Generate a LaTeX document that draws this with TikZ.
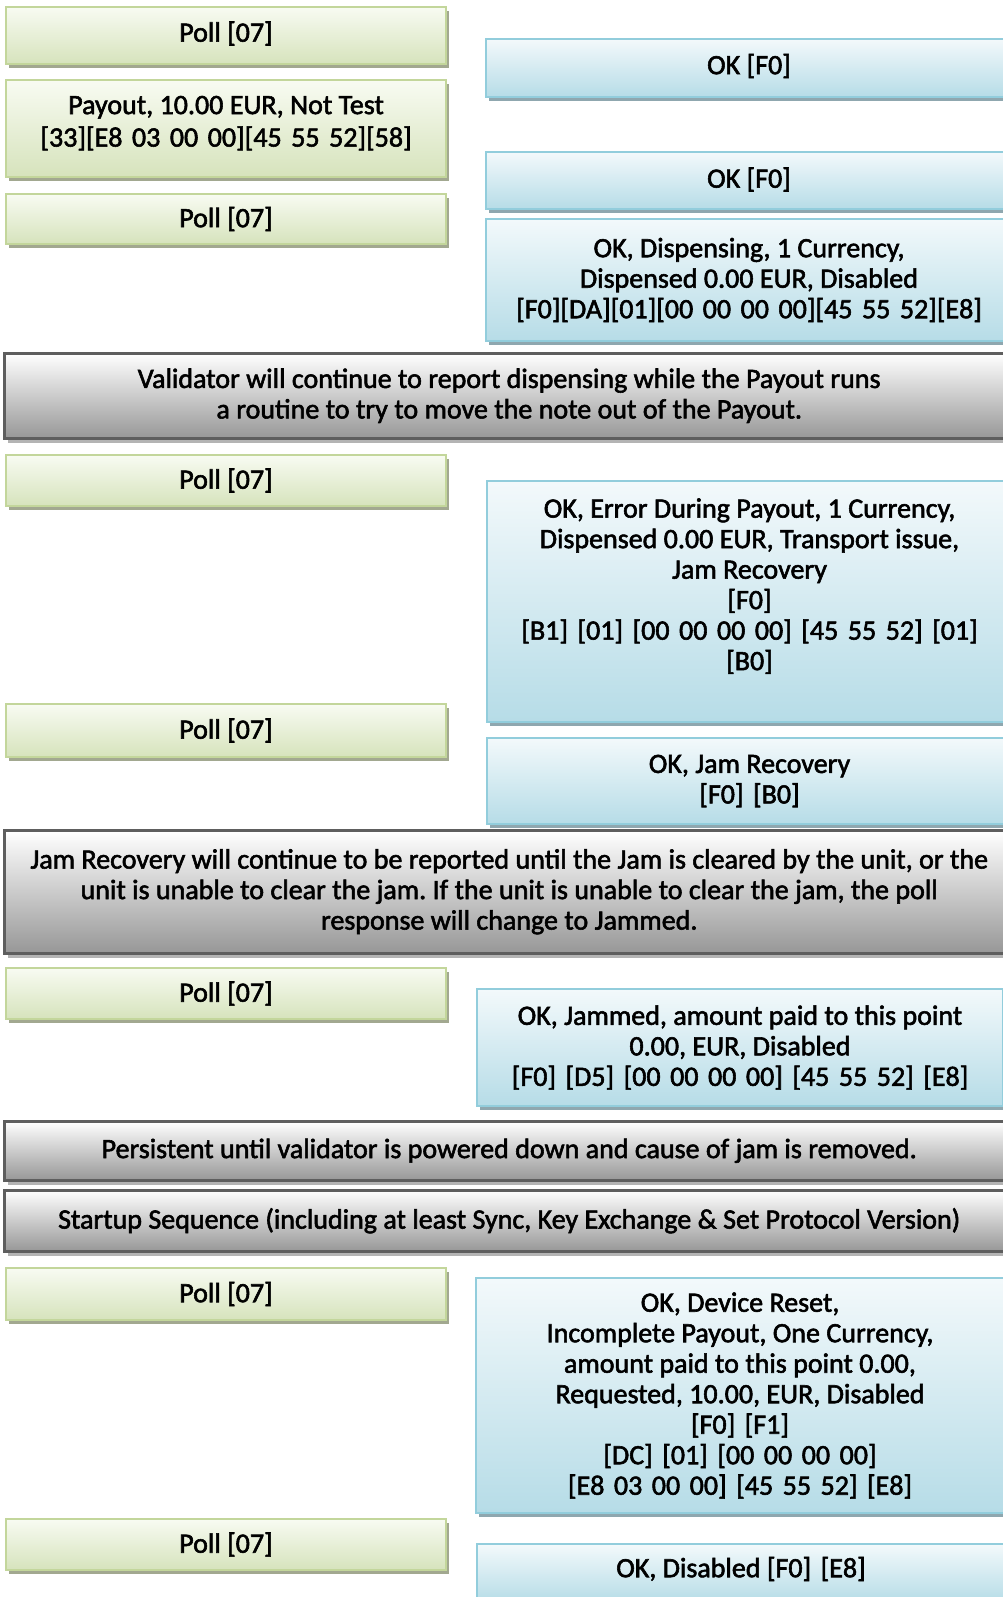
\documentclass[tikz,border=0pt]{standalone}
\usepackage{fontspec}
\setmainfont{Carlito}[FakeBold=2]
\usetikzlibrary{shadows}

\definecolor{hosttop}{HTML}{F8FBF2}
\definecolor{hostbot}{HTML}{D6E3BC}
\definecolor{hostline}{HTML}{C3D69B}
\definecolor{hostshade}{HTML}{A2A890}
\definecolor{slavetop}{HTML}{F3F9FB}
\definecolor{slavebot}{HTML}{B6DCE7}
\definecolor{slaveline}{HTML}{92CDDC}
\definecolor{slaveshade}{HTML}{8FA7AF}
\definecolor{notebot}{HTML}{979797}
\definecolor{noteline}{HTML}{5E5E5E}
\definecolor{noteshade}{HTML}{B4B4B4}

\newcommand{\boxfont}{\fontsize{28}{30.5}\selectfont\frenchspacing}
\newcommand{\upby}[2]{\raisebox{#1}[\height][\depth]{#2}}
% byte strings get wider gaps than words
\newcommand{\hexline}[1]{{\spaceskip=9.5pt\relax #1}}

\begin{document}
\begin{tikzpicture}[x=1pt,y=-1pt]
 \tikzstyle{msgbox} = [anchor=north west,inner sep=0pt,align=flush center,font=\boxfont,
   execute at begin node={\spaceskip=6.4pt plus 1pt minus 1pt\relax}]
 \tikzstyle{hostbox} = [msgbox,draw=hostline,line width=2pt,top color=hosttop,bottom color=hostbot,
   drop shadow={shadow xshift=3pt,shadow yshift=-4pt,fill=hostshade,opacity=1},
   minimum width=440pt,text width=430pt]
 \tikzstyle{slavebox} = [msgbox,draw=slaveline,line width=2pt,top color=slavetop,bottom color=slavebot,
   drop shadow={shadow xshift=3pt,shadow yshift=-4pt,fill=slaveshade,opacity=1}]
 \tikzstyle{notebox} = [msgbox,draw=noteline,line width=2.5pt,top color=white,bottom color=notebot,
   drop shadow={shadow xshift=4pt,shadow yshift=-5pt,fill=noteshade,opacity=1},
   minimum width=1010pt,text width=1000pt]

  \useasboundingbox[fill=white] (0,0) rectangle (1002,1597);

  % Host commands
  \node[hostbox,minimum height=57pt] (poll1)  at (5,6)    {\upby{2pt}{Poll [07]}};
  \node[hostbox,minimum height=97pt] (payout) at (5,79)
    {Payout, 10.00 EUR, Not Test\\[2pt]\hexline{[33][E8 03 00 00][45 55 52][58]}\\[-16pt]\mbox{}};
  \node[hostbox,minimum height=50pt] (poll2)  at (5,193)  {Poll [07]};
  \node[hostbox,minimum height=51pt] (poll3)  at (5,454)  {Poll [07]};
  \node[hostbox,minimum height=53pt] (poll4)  at (5,703)  {Poll [07]};
  \node[hostbox,minimum height=51pt] (poll5)  at (5,967)  {Poll [07]};
  \node[hostbox,minimum height=52pt] (poll6)  at (5,1267) {Poll [07]};
  \node[hostbox,minimum height=51pt] (poll7)  at (5,1518) {Poll [07]};

  % Validator replies
  \node[slavebox,minimum width=526pt,text width=516pt,minimum height=58pt]  (ok1)  at (485,38)  {\upby{2pt}{OK [F0]}};
  \node[slavebox,minimum width=526pt,text width=516pt,minimum height=57pt]  (ok2)  at (485,151) {\upby{1pt}{OK [F0]}};
  \node[slavebox,minimum width=526pt,text width=516pt,minimum height=122pt] (disp) at (485,218)
    {OK, Dispensing, 1 Currency,\\Dispensed 0.00 EUR, Disabled\\\hexline{[F0][DA][01][00 00 00 00][45 55 52][E8]}};
  \node[slavebox,minimum width=525pt,text width=515pt,minimum height=241pt] (err) at (486,480)
    {OK, Error During Payout, 1 Currency,\\Dispensed 0.00 EUR, Transport issue,\\Jam Recovery\\\hexline{[F0]}\\
     \hexline{[B1] [01] [00 00 00 00] [45 55 52] [01]}\\\hexline{[B0]}\\[4pt]\mbox{}};
  \node[slavebox,minimum width=525pt,text width=515pt,minimum height=86pt] (jamrec) at (486,737)
    {OK, Jam Recovery\\\hexline{[F0] [B0]}};
  \node[slavebox,minimum width=526pt,text width=516pt,minimum height=117pt] (jammed) at (476,988)
    {OK, Jammed, amount paid to this point\\0.00, EUR, Disabled\\\hexline{[F0] [D5] [00 00 00 00] [45 55 52] [E8]}};
  \node[slavebox,minimum width=528pt,text width=518pt,minimum height=235pt] (reset) at (475,1277)
    {OK, Device Reset,\\Incomplete Payout, One Currency,\\amount paid to this point 0.00,\\Requested, 10.00, EUR, Disabled\\
     \hexline{[F0] [F1]}\\\hexline{[DC] [01] [00 00 00 00]}\\\hexline{[E8 03 00 00] [45 55 52] [E8]}};
  \node[slavebox,minimum width=528pt,text width=518pt,minimum height=58pt] (disabled) at (476,1543)
    {\upby{4pt}{OK, Disabled \hexline{[F0] [E8]}}};

  % Notes across the page
  \node[notebox,minimum height=85pt] (note1) at (3,352)
    {Validator will continue to report dispensing while the Payout runs\\a routine to try to move the note out of the Payout.};
  \node[notebox,minimum height=123pt] (note2) at (3,829)
    {Jam Recovery will continue to be reported until the Jam is cleared by the unit, or the\\unit is unable to clear the jam. If the unit is unable to clear the jam, the poll\\response will change to Jammed.};
  \node[notebox,minimum height=59pt] (note3) at (3,1120)
    {Persistent until validator is powered down and cause of jam is removed.};
  \node[notebox,minimum height=61pt] (note4) at (3,1189)
    {Startup Sequence (including at least Sync, Key Exchange \& Set Protocol Version)};

\end{tikzpicture}
\end{document}
